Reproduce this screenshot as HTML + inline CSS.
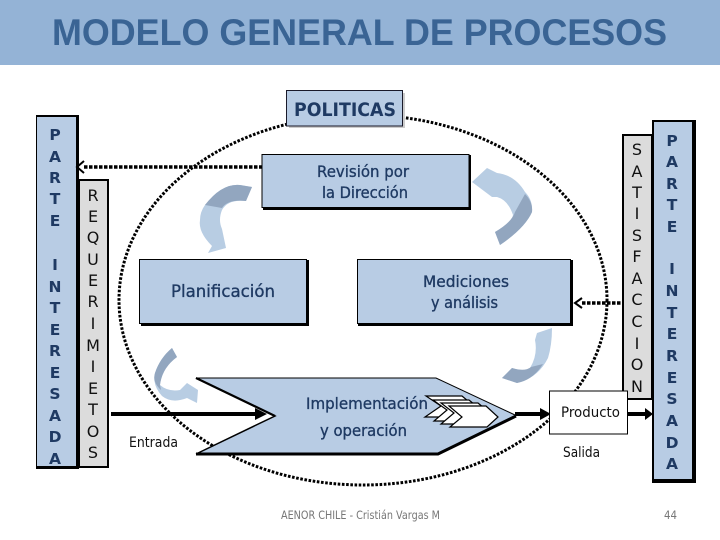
<!DOCTYPE html>
<html><head><meta charset="utf-8"><style>
html,body{margin:0;padding:0;background:#fff;width:720px;height:540px;overflow:hidden}
svg{display:block}
text{font-family:"DejaVu Sans","Liberation Sans",sans-serif}
.n{fill:#1f3a63;font-weight:700;font-size:15.5px;text-anchor:middle}
.k{fill:#111;font-size:16px;text-anchor:middle}
.l{fill:#1f3a63;font-size:16px;stroke:#1f3a63;stroke-width:.35px}
.b{fill:#111;font-size:14px}
</style></head><body>
<svg width="720" height="540" viewBox="0 0 720 540" xmlns="http://www.w3.org/2000/svg">
<rect width="720" height="65" fill="#94b3d6"/>
<text x="52" y="45" textLength="615" lengthAdjust="spacingAndGlyphs" style="font-family:'Liberation Sans',sans-serif;font-weight:700;font-size:37px" fill="#3a6494">MODELO GENERAL DE PROCESOS</text>

<ellipse cx="363" cy="300" rx="244" ry="185" fill="none" stroke="#000" stroke-width="3" stroke-dasharray="2.6 1.6"/>

<!-- left columns -->
<rect x="78" y="179" width="31" height="289" fill="#000"/>
<rect x="80" y="181" width="27" height="285" fill="#dcdcdc"/>
<rect x="36" y="115" width="43" height="354" fill="#000"/>
<rect x="37" y="117" width="39" height="349" fill="#b8cce4"/>
<text class="n" x="55" y="140">P</text><text class="n" x="55" y="162">A</text><text class="n" x="55" y="183">R</text><text class="n" x="55" y="204">T</text><text class="n" x="55" y="226">E</text>
<text class="n" x="55" y="270">I</text><text class="n" x="55" y="292">N</text><text class="n" x="55" y="313">T</text><text class="n" x="55" y="335">E</text><text class="n" x="55" y="356">R</text><text class="n" x="55" y="378">E</text><text class="n" x="55" y="399">S</text><text class="n" x="55" y="421">A</text><text class="n" x="55" y="442">D</text><text class="n" x="55" y="464">A</text>
<text class="k" x="93" y="201">R</text><text class="k" x="93" y="222">E</text><text class="k" x="93" y="243">Q</text><text class="k" x="93" y="265">U</text><text class="k" x="93" y="286">E</text><text class="k" x="93" y="307">R</text><text class="k" x="93" y="329">I</text><text class="k" x="93" y="351">M</text><text class="k" x="93" y="372">I</text><text class="k" x="93" y="394">E</text><text class="k" x="93" y="415">T</text><text class="k" x="93" y="437">O</text><text class="k" x="93" y="458">S</text>

<!-- right columns -->
<rect x="622" y="134" width="32" height="266" fill="#000"/>
<rect x="624" y="136" width="27" height="262" fill="#dcdcdc"/>
<rect x="652" y="120" width="44" height="363" fill="#000"/>
<rect x="654" y="122" width="38" height="357" fill="#b8cce4"/>
<text class="k" x="637" y="155">S</text><text class="k" x="637" y="177">A</text><text class="k" x="637" y="198">T</text><text class="k" x="637" y="219">I</text><text class="k" x="637" y="241">S</text><text class="k" x="637" y="262">F</text><text class="k" x="637" y="284">A</text><text class="k" x="637" y="305">C</text><text class="k" x="637" y="327">C</text><text class="k" x="637" y="349">I</text><text class="k" x="637" y="370">O</text><text class="k" x="637" y="392">N</text>
<text class="n" x="672" y="146">P</text><text class="n" x="672" y="167">A</text><text class="n" x="672" y="189">R</text><text class="n" x="672" y="210">T</text><text class="n" x="672" y="232">E</text>
<text class="n" x="672" y="274">I</text><text class="n" x="672" y="296">N</text><text class="n" x="672" y="318">T</text><text class="n" x="672" y="339">E</text><text class="n" x="672" y="361">R</text><text class="n" x="672" y="383">E</text><text class="n" x="672" y="404">S</text><text class="n" x="672" y="426">A</text><text class="n" x="672" y="448">D</text><text class="n" x="672" y="469">A</text>

<!-- dotted links -->
<line x1="84" y1="167" x2="262" y2="167" stroke="#000" stroke-width="3.5" stroke-dasharray="3.5 1.5"/>
<path d="M84 161L77 167L84 173" fill="none" stroke="#000" stroke-width="2"/>
<line x1="582" y1="303" x2="624" y2="303" stroke="#000" stroke-width="3.5" stroke-dasharray="3.5 1.5"/>
<path d="M582 298L575 303L582 308" fill="none" stroke="#000" stroke-width="2"/>

<!-- POLITICAS -->
<rect x="289" y="93" width="116" height="35" fill="#ccc"/>
<rect x="286.500" y="90.500" width="116" height="35.500" fill="#b8cce4" stroke="#1a1a2a"/>
<text x="294" y="116" textLength="102" lengthAdjust="spacingAndGlyphs" style="font-weight:700;font-size:19px" fill="#1f3a63">POLITICAS</text>

<!-- boxes -->
<rect x="263" y="155" width="208" height="55" fill="#000"/>
<rect x="262" y="154.500" width="207" height="53" fill="#b8cce4" stroke="#000"/>
<text class="l" x="317" y="177" textLength="92" lengthAdjust="spacingAndGlyphs">Revisión por</text>
<text class="l" x="322" y="198" textLength="86" lengthAdjust="spacingAndGlyphs">la Dirección</text>

<rect x="141" y="260" width="168" height="66" fill="#000"/>
<rect x="139.500" y="259.500" width="167" height="64" fill="#b8cce4" stroke="#000"/>
<text class="l" x="171" y="297" textLength="104" lengthAdjust="spacingAndGlyphs" style="font-size:17px">Planificación</text>

<rect x="358" y="260" width="215" height="66" fill="#000"/>
<rect x="357.500" y="259.500" width="213" height="64" fill="#b8cce4" stroke="#000"/>
<text class="l" x="423" y="287" textLength="86" lengthAdjust="spacingAndGlyphs">Mediciones</text>
<text class="l" x="431" y="308" textLength="67" lengthAdjust="spacingAndGlyphs">y análisis</text>

<!-- process arrow -->
<polygon points="196,378 436,378 515,415 438,454 196,454 275,416" fill="#b8cce4"/>
<path d="M196 378H436L515 415" fill="none" stroke="#000" stroke-width="1"/>
<path d="M196 378L275 416L196 454" fill="none" stroke="#000" stroke-width="1.500"/>
<path d="M196 454H438L516 416" fill="none" stroke="#000" stroke-width="3"/>
<path d="M196 378L275 416" fill="none" stroke="#000" stroke-width="2.200"/>
<text class="l" x="306" y="409" textLength="122" lengthAdjust="spacingAndGlyphs">Implementación</text>
<text class="l" x="320" y="436" textLength="87" lengthAdjust="spacingAndGlyphs">y operación</text>

<!-- chevrons -->
<g fill="#fff" stroke="#000" stroke-width="1.200">
<polygon points="426,396 462,396 474,406 462,417 425,417 441,406"/>
<polygon points="433,400 469,400 481,410 469,421 434,421 447,410"/>
<polygon points="441,403 478,403 490,413 478,424 441,424 454,413"/>
<polygon points="449,406 486,406 498,417 487,427 450,427 462,417"/>
</g>

<!-- in / out arrows -->
<line x1="111" y1="414" x2="258" y2="414" stroke="#000" stroke-width="4"/>
<polygon points="255,408 267,414 255,420" fill="#000"/>
<line x1="515" y1="414" x2="545" y2="414" stroke="#000" stroke-width="4"/>
<polygon points="540,408 551,414 540,420" fill="#000"/>

<!-- Producto -->
<rect x="549.500" y="391" width="78" height="43" fill="#fff" stroke="#000"/>
<text class="b" x="561" y="417" textLength="59" lengthAdjust="spacingAndGlyphs">Producto</text>
<line x1="627" y1="414" x2="648" y2="414" stroke="#000" stroke-width="4"/>
<polygon points="645,408 653,414 645,420" fill="#000"/>
<text class="b" x="563" y="457" textLength="37" lengthAdjust="spacingAndGlyphs">Salida</text>
<text class="b" x="129" y="447" textLength="49" lengthAdjust="spacingAndGlyphs">Entrada</text>

<!-- curved arrows -->
<path d="M205 205Q222 183 240 185L252 187L246 201Q228 199 222 210Q218 220 222 229L226 248L208 253L212 246Q198 232 200 220Q200 212 205 205Z" fill="#b8cde3"/>
<path d="M205 205Q222 183 240 185L252 187L246 201Q228 199 222 208Z" fill="#92a6bf"/>
<path d="M487 168L497 173Q515 175 525 192Q533 200 532 212Q525 228 500 245L495 232Q512 222 513 215Q508 200 497 197L492 197L472 182Z" fill="#b8cde3"/>
<path d="M525 194Q533 202 532 212Q525 228 500 245L495 232Q512 222 515 212Z" fill="#92a6bf"/>
<path d="M552 328Q552 345 548 358Q538 378 517 383L502 378L512 368Q525 372 530 368Q538 355 535 340L537 333Z" fill="#b8cde3"/>
<path d="M543 364Q533 380 517 383L502 378L512 368Q525 372 531 367Z" fill="#92a6bf"/>
<path d="M172 348L177 357Q162 368 160 385Q168 392 180 390L187 383L198 390L197 403L187 398Q172 404 162 396Q152 385 155 373Q160 358 172 348Z" fill="#b8cde3"/>
<path d="M172 348L177 357Q162 368 160 385L161 390Q152 382 155 373Q160 358 172 348Z" fill="#92a6bf"/>

<!-- footer -->
<text x="281" y="519" textLength="159" lengthAdjust="spacingAndGlyphs" style="font-size:11.500px" fill="#777">AENOR CHILE - Cristián Vargas M</text>
<text x="664" y="519" textLength="13" lengthAdjust="spacingAndGlyphs" style="font-size:11.500px" fill="#777">44</text>
</svg>
</body></html>
